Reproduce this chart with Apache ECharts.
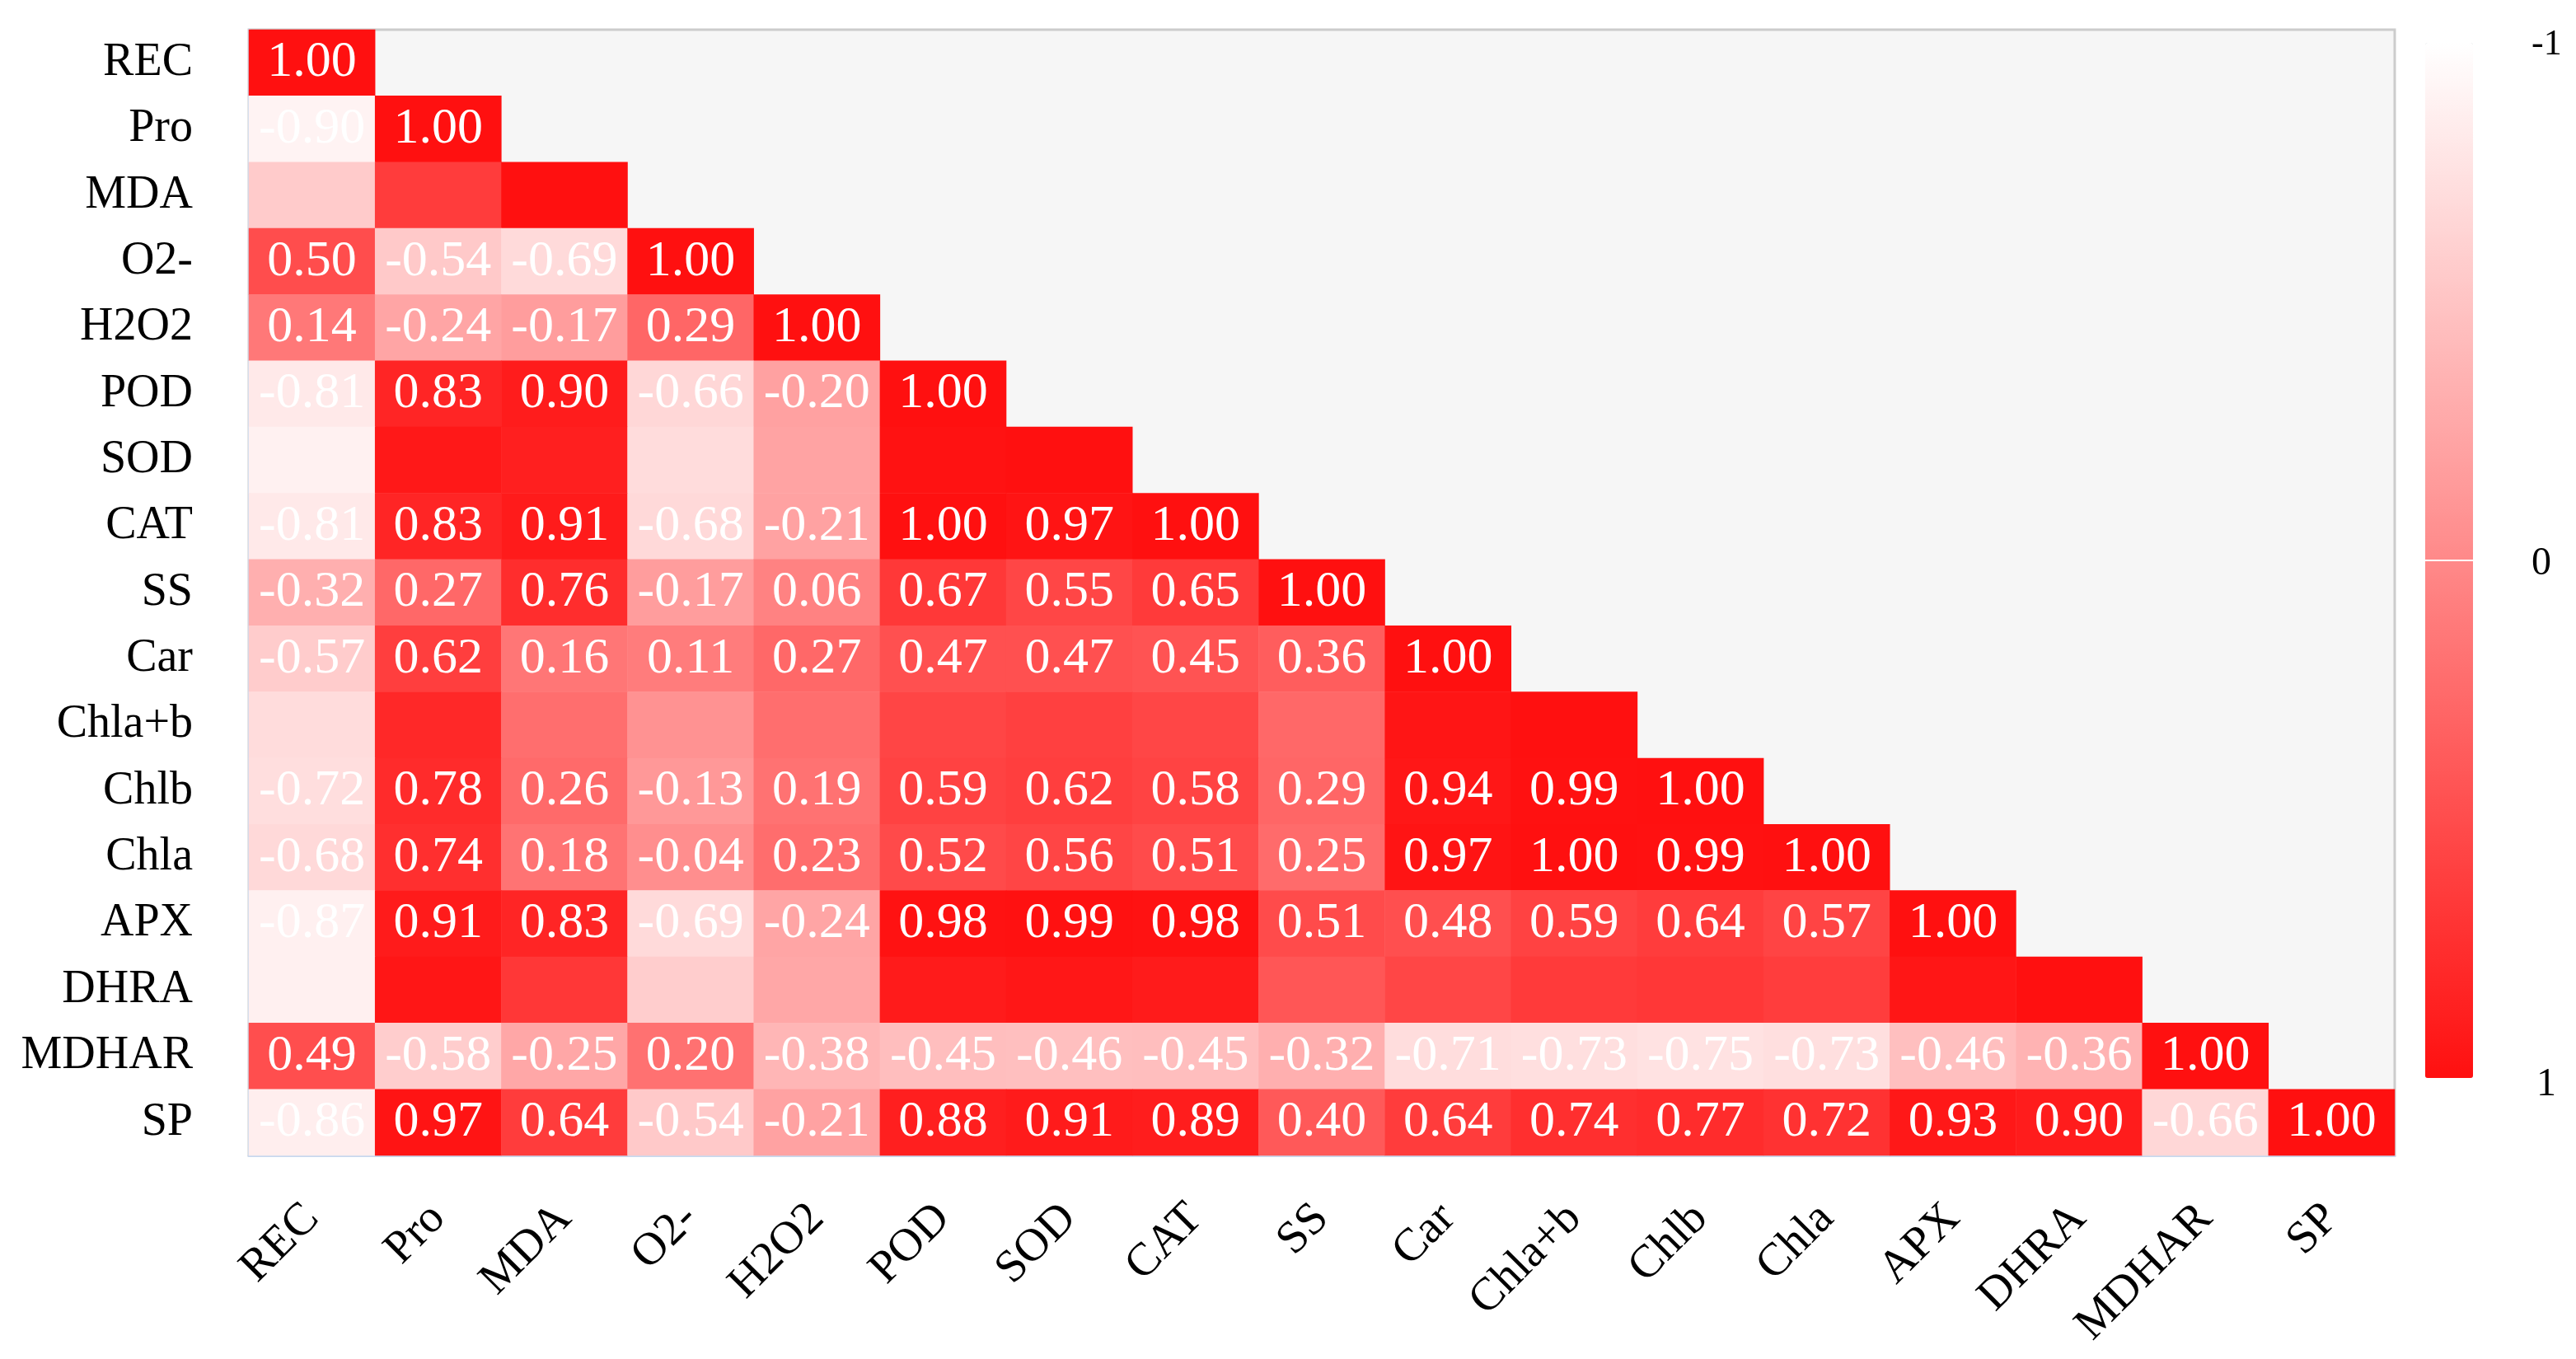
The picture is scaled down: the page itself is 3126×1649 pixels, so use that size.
<!DOCTYPE html>
<html>
<head>
<meta charset="utf-8">
<script src="https://cdn.jsdelivr.net/npm/echarts@6/dist/echarts.min.js"></script>
<style>
html,body{margin:0;padding:0;background:#ffffff;}
#chart{width:3126px;height:1649px;}
</style>
</head>
<body>
<div id="chart"></div>
<script>
// Variable names (x axis left->right, y axis top->bottom)
const variables = ['REC','Pro','MDA','O2-','H2O2','POD','SOD','CAT','SS','Car','Chla+b','Chlb','Chla','APX','DHRA','MDHAR','SP'];

// Lower-triangle correlation rows (row i holds columns 0..i)
const rowREC    = [1.00];
const rowPro    = [-0.90, 1.00];
const rowMDA    = [-0.56, 0.64, 1.00];
const rowO2     = [0.50, -0.54, -0.69, 1.00];
const rowH2O2   = [0.14, -0.24, -0.17, 0.29, 1.00];
const rowPOD    = [-0.81, 0.83, 0.90, -0.66, -0.20, 1.00];
const rowSOD    = [-0.88, 0.93, 0.88, -0.70, -0.22, 0.98, 1.00];
const rowCAT    = [-0.81, 0.83, 0.91, -0.68, -0.21, 1.00, 0.97, 1.00];
const rowSS     = [-0.32, 0.27, 0.76, -0.17, 0.06, 0.67, 0.55, 0.65, 1.00];
const rowCar    = [-0.57, 0.62, 0.16, 0.11, 0.27, 0.47, 0.47, 0.45, 0.36, 1.00];
const rowChlab  = [-0.70, 0.80, 0.22, -0.08, 0.22, 0.56, 0.60, 0.55, 0.27, 0.96, 1.00];
const rowChlb   = [-0.72, 0.78, 0.26, -0.13, 0.19, 0.59, 0.62, 0.58, 0.29, 0.94, 0.99, 1.00];
const rowChla   = [-0.68, 0.74, 0.18, -0.04, 0.23, 0.52, 0.56, 0.51, 0.25, 0.97, 1.00, 0.99, 1.00];
const rowAPX    = [-0.87, 0.91, 0.83, -0.69, -0.24, 0.98, 0.99, 0.98, 0.51, 0.48, 0.59, 0.64, 0.57, 1.00];
const rowDHRA   = [-0.87, 0.95, 0.68, -0.58, -0.25, 0.91, 0.94, 0.91, 0.42, 0.55, 0.65, 0.68, 0.63, 0.95, 1.00];
const rowMDHAR  = [0.49, -0.58, -0.25, 0.20, -0.38, -0.45, -0.46, -0.45, -0.32, -0.71, -0.73, -0.75, -0.73, -0.46, -0.36, 1.00];
const rowSP     = [-0.86, 0.97, 0.64, -0.54, -0.21, 0.88, 0.91, 0.89, 0.40, 0.64, 0.74, 0.77, 0.72, 0.93, 0.90, -0.66, 1.00];

// Rows whose cells carry no printed value in the original figure
const unlabeledRows = ['MDA','SOD','Chla+b','DHRA'];

// Colour-bar tick labels
const scaleTicks = ['-1', '0', '1'];

const rows = [rowREC,rowPro,rowMDA,rowO2,rowH2O2,rowPOD,rowSOD,rowCAT,rowSS,rowCar,rowChlab,rowChlb,rowChla,rowAPX,rowDHRA,rowMDHAR,rowSP];

const data = [];
rows.forEach(function(r, i){
  const hide = unlabeledRows.indexOf(variables[i]) >= 0;
  r.forEach(function(v, j){
    const item = {value: [j, i, v]};
    if (hide) item.label = {show: false};
    data.push(item);
  });
});

const serif = '"Liberation Serif", "Times New Roman", serif';

// layout constants
const gridL = 302, gridT = 36, gridR = 2906, gridB = 1402;
const barX = 2943, barW = 58, barT = 52, barH = 1256;
const tickX = 3072;

const chart = echarts.init(document.getElementById('chart'));
chart.setOption({
  backgroundColor: '#ffffff',
  animation: false,
  grid: {
    left: gridL, top: gridT, right: 3126 - gridR, bottom: 1649 - gridB,
    show: true, backgroundColor: '#f6f6f6', borderColor: '#cccccc', borderWidth: 3
  },
  xAxis: {
    type: 'category',
    data: variables,
    axisLine: {show: true, lineStyle: {color: '#c9d8ee', width: 3}},
    axisTick: {show: false},
    splitLine: {show: false},
    axisLabel: {rotate: 45, margin: 68, interval: 0, color: '#000', fontFamily: serif, fontSize: 56}
  },
  yAxis: {
    type: 'category',
    data: variables,
    inverse: true,
    axisLine: {show: true, lineStyle: {color: '#c9d8ee', width: 3}},
    axisTick: {show: false},
    splitLine: {show: false},
    axisLabel: {margin: 68, interval: 0, color: '#000', fontFamily: serif, fontSize: 56}
  },
  visualMap: {
    type: 'continuous',
    min: -1, max: 1,
    inverse: true,
    orient: 'vertical',
    left: barX, top: barT,
    itemWidth: barW, itemHeight: barH,
    padding: 0,
    calculable: false,
    text: null,
    showLabel: false,
    inRange: {color: ['#ffffff', '#ff8989', '#ff1010']}
  },
  graphic: [
    {type: 'rect', left: barX, top: barT + barH / 2 - 1, shape: {width: barW, height: 2}, style: {fill: '#ffffff'}, z: 100},
    {type: 'text', left: tickX, top: barT - 20, style: {text: scaleTicks[0], font: '44px ' + serif, fill: '#000'}},
    {type: 'text', left: tickX, top: barT + barH / 2 - 20, style: {text: scaleTicks[1], font: '48px ' + serif, fill: '#000'}},
    {type: 'text', left: tickX + 6, top: barT + barH - 16, style: {text: scaleTicks[2], font: '48px ' + serif, fill: '#000'}}
  ],
  series: [{
    type: 'heatmap',
    data: data,
    label: {
      show: true,
      color: '#ffffff',
      fontFamily: serif,
      fontSize: 62,
      formatter: function(p){ return p.value[2].toFixed(2); }
    },
    itemStyle: {borderWidth: 0},
    emphasis: {disabled: true}
  }]
});
</script>
</body>
</html>
